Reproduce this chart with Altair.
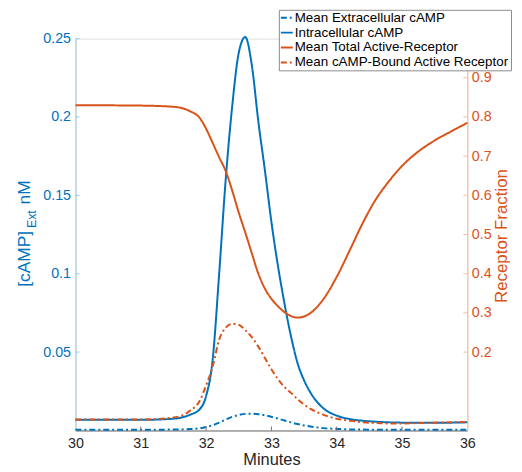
import altair as alt
import pandas as pd

# ---------------- data ----------------
t = [30, 31, 31.5, 31.75, 31.9, 32.0, 32.1, 32.2, 32.3, 32.4, 32.5, 32.6, 32.7,
     32.8, 32.9, 33.0, 33.1, 33.2, 33.3, 33.4, 33.5, 33.6, 33.8, 34.0, 34.2,
     34.4, 34.6, 34.8, 35.0, 35.25, 35.5, 35.75, 36]

extracellular = [0.0005, 0.0005, 0.0006, 0.0009, 0.0014, 0.0022, 0.0033, 0.0050,
                 0.0070, 0.0087, 0.0099, 0.0106, 0.0107, 0.0104, 0.0097, 0.0087,
                 0.0076, 0.0064, 0.0052, 0.0041, 0.0032, 0.0025, 0.0015, 0.0010,
                 0.0007, 0.0006, 0.0005, 0.0005, 0.0005, 0.0005, 0.0005, 0.0005, 0.0005]

intracellular = [0.0068, 0.0068, 0.0075, 0.0100, 0.0135, 0.0220, 0.0450, 0.1000,
                 0.1600, 0.2070, 0.2410, 0.2510, 0.2330, 0.1970, 0.1660, 0.1330,
                 0.1050, 0.0810, 0.0600, 0.0430, 0.0320, 0.0240, 0.0140, 0.0095,
                 0.0073, 0.0062, 0.0056, 0.0052, 0.0050, 0.0049, 0.0049, 0.0050, 0.0052]

total_active = [0.830, 0.829, 0.826, 0.815, 0.798, 0.770, 0.734, 0.697, 0.662,
                0.612, 0.556, 0.505, 0.452, 0.400, 0.362, 0.336, 0.317, 0.302,
                0.292, 0.288, 0.291, 0.300, 0.336, 0.392, 0.460, 0.530, 0.590,
                0.636, 0.675, 0.712, 0.740, 0.763, 0.785]

camp_bound = [0.028, 0.028, 0.033, 0.050, 0.075, 0.115, 0.163, 0.232, 0.262,
              0.272, 0.270, 0.256, 0.238, 0.214, 0.185, 0.156, 0.131, 0.111,
              0.096, 0.080, 0.066, 0.055, 0.040, 0.030, 0.025, 0.021, 0.019,
              0.018, 0.018, 0.019, 0.020, 0.021, 0.022]

names = ["Mean Extracellular cAMP", "Intracellular cAMP",
         "Mean Total Active-Receptor", "Mean cAMP-Bound Active Receptor"]

x_ticks = [30, 31, 32, 33, 34, 35, 36]
left_ticks = [0.05, 0.1, 0.15, 0.2, 0.25]
right_ticks = [0.2, 0.3, 0.4, 0.5, 0.6, 0.7, 0.8, 0.9]

# ---------------- styling ----------------
BLUE = "#0072BD"
ORANGE = "#D95319"
BLUE_AX = "#9CC7E6"
ORANGE_AX = "#F3BBA3"
DARK = "#262626"
GRAY_AX = "#6f6f6f"
FONT = "Liberation Sans"
W, H = 395, 395

left_df = pd.concat([
    pd.DataFrame({"t": t, "v": extracellular, "series": names[0]}),
    pd.DataFrame({"t": t, "v": intracellular, "series": names[1]}),
])
right_df = pd.concat([
    pd.DataFrame({"t": t, "v": total_active, "series": names[2]}),
    pd.DataFrame({"t": t, "v": camp_bound, "series": names[3]}),
])

x_scale = alt.Scale(domain=[30, 36], nice=False, zero=False)
yl_scale = alt.Scale(domain=[0, 0.25], nice=False)
yr_scale = alt.Scale(domain=[0, 1.0], nice=False)
color_scale = alt.Scale(domain=names, range=[BLUE, BLUE, ORANGE, ORANGE])
dash_scale = alt.Scale(domain=names, range=[[6, 3, 2, 3], [1, 0], [1, 0], [6, 3, 2, 3]])

legend = alt.Legend(
    title=None, orient="none", legendX=205, legendY=-29,
    fillColor="white", strokeColor="#8c8c8c", padding=1,
    symbolType="stroke", symbolSize=144, symbolStrokeWidth=2,
    labelFontSize=13.5, labelFont=FONT, labelColor="black", labelOffset=1,
    rowPadding=1, labelLimit=400,
)

x_axis = alt.Axis(values=x_ticks, format="~g", ticks=False, grid=False,
                  title="Minutes", titleFontSize=16.5, titleFontWeight="normal",
                  titleColor=DARK, titleFont=FONT, titlePadding=2,
                  labelFontSize=14.4, labelColor=DARK, labelFont=FONT,
                  labelPadding=6, domainColor=GRAY_AX, labelFlush=False)

yl_axis = alt.Axis(values=left_ticks, format="~g", ticks=False, grid=False, title=None,
                   labelFontSize=14.4, labelColor=BLUE, labelFont=FONT, labelPadding=5,
                   domainColor=BLUE_AX, labelFlush=False)

yr_axis = alt.Axis(orient="right", values=right_ticks, format="~g", ticks=False,
                   grid=False, title=None, labelFontSize=14.4,
                   labelColor=ORANGE, labelFont=FONT, labelPadding=4,
                   domainColor=ORANGE_AX, labelFlush=False)

x_enc = alt.X("t:Q", scale=x_scale, axis=x_axis)

left_lines = alt.Chart(left_df).mark_line(strokeWidth=2, interpolate="monotone").encode(
    x=x_enc,
    y=alt.Y("v:Q", scale=yl_scale, axis=yl_axis),
    color=alt.Color("series:N", scale=color_scale, legend=legend, sort=names),
    strokeDash=alt.StrokeDash("series:N", scale=dash_scale, legend=legend, sort=names),
)

left_tick_marks = alt.Chart(pd.DataFrame({"v": left_ticks})).mark_rule(
    color=BLUE_AX, strokeWidth=1).encode(
    y=alt.Y("v:Q", scale=yl_scale, axis=yl_axis),
    x=alt.value(0), x2=alt.value(4),
)

right_lines = alt.Chart(right_df).mark_line(strokeWidth=2, interpolate="monotone").encode(
    x=x_enc,
    y=alt.Y("v:Q", scale=yr_scale, axis=yr_axis),
    color=alt.Color("series:N", scale=color_scale, legend=legend, sort=names),
    strokeDash=alt.StrokeDash("series:N", scale=dash_scale, legend=legend, sort=names),
)

right_tick_marks = alt.Chart(pd.DataFrame({"v": right_ticks})).mark_rule(
    color=ORANGE_AX, strokeWidth=1).encode(
    y=alt.Y("v:Q", scale=yr_scale, axis=yr_axis),
    x=alt.value(W - 4), x2=alt.value(W),
)

x_tick_marks = alt.Chart(pd.DataFrame({"t": x_ticks[1:-1]})).mark_rule(
    color=GRAY_AX, strokeWidth=1).encode(
    x=x_enc,
    y=alt.value(H - 4), y2=alt.value(H),
)

# axis titles drawn as text (left one carries a subscript)
def title_piece(txt, x, y, size, color):
    return alt.Chart(pd.DataFrame({"s": [txt]})).mark_text(
        angle=270, align="center", baseline="middle", font=FONT,
        fontSize=size, color=color).encode(
        text="s:N", x=alt.value(x), y=alt.value(y))

title_layers = [
    title_piece("[cAMP]", -51, 222, 17.5, BLUE),
    title_piece("Ext", -44, 182, 12.5, BLUE),
    title_piece("nM", -51, 155, 17.5, BLUE),
    title_piece("Receptor Fraction", 430, 199, 17, ORANGE),
]

left_group = alt.layer(left_lines, left_tick_marks, x_tick_marks)
right_group = alt.layer(right_lines, right_tick_marks)

chart = alt.layer(left_group, right_group, *title_layers).resolve_scale(
    y="independent"
).properties(
    width=W, height=H,
    padding={"left": 68, "top": 29, "right": 47, "bottom": 38},
    autosize=alt.AutoSizeParams(type="none"),
).configure_view(stroke=None).configure(font=FONT)

chart.save("out.html", embed_options={"renderer": "svg", "actions": False})
